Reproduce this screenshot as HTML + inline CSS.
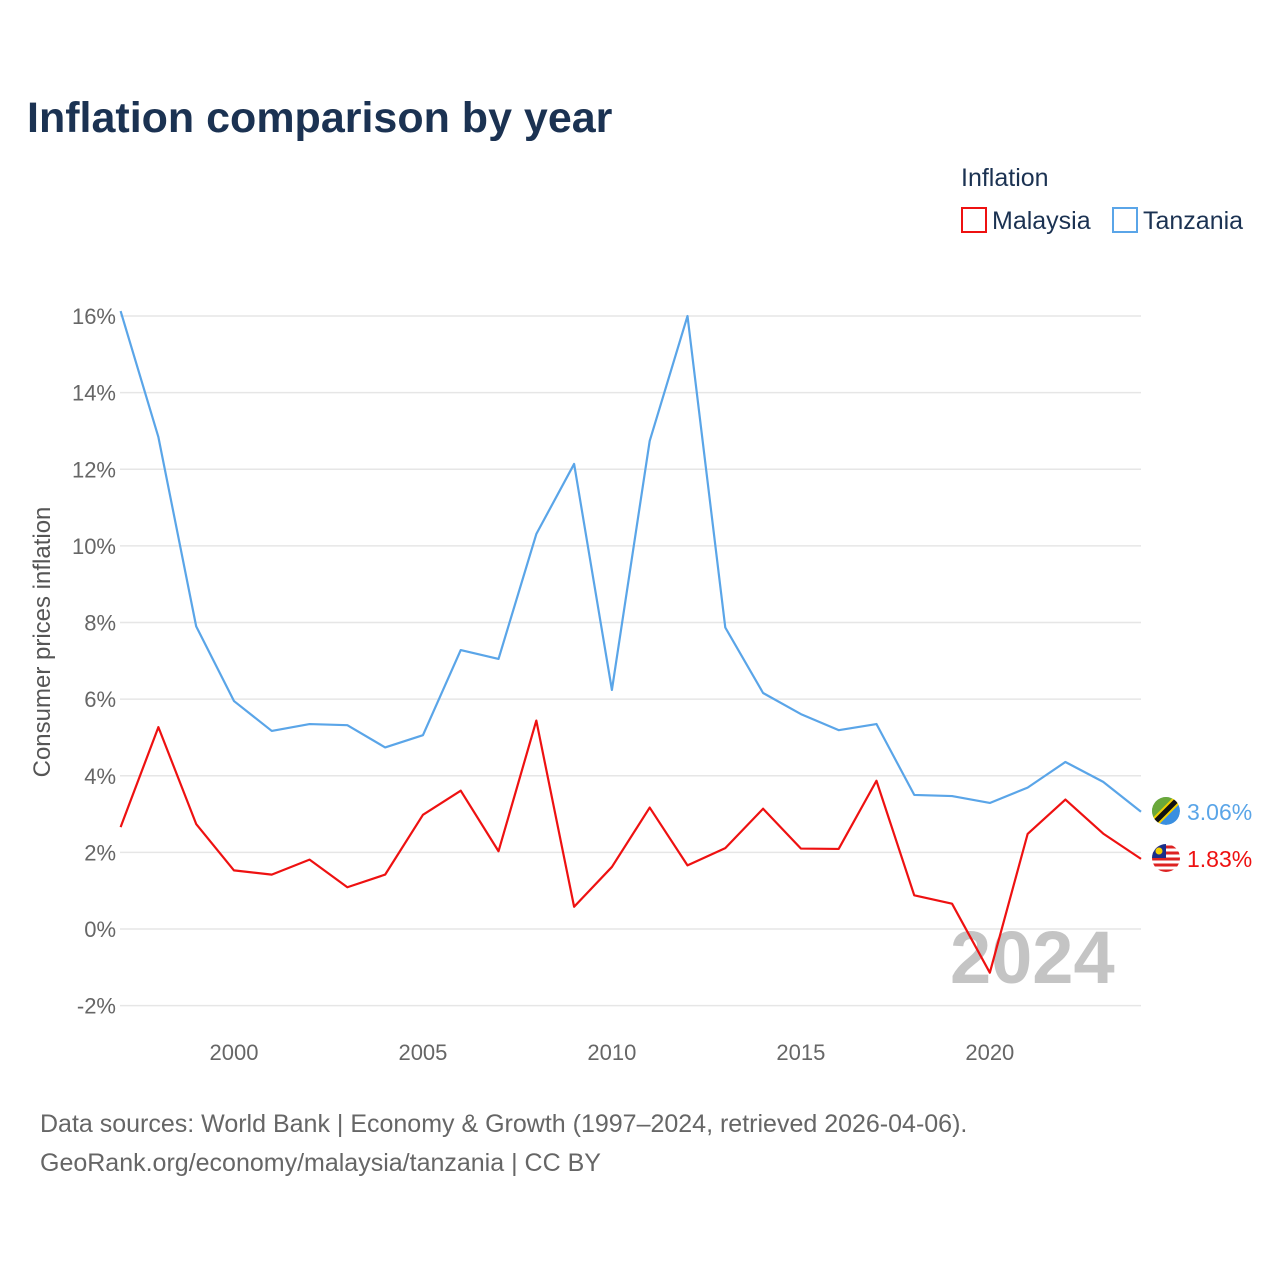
<!DOCTYPE html>
<html><head><meta charset="utf-8"><style>
body{margin:0;background:#fff;font-family:"Liberation Sans",sans-serif}
</style></head><body>
<svg id="chart" width="1280" height="1280" viewBox="0 0 1280 1280">
<defs><clipPath id="mc"><circle cx="1166" cy="858" r="14"/></clipPath><clipPath id="tc"><circle cx="1166" cy="811" r="14"/></clipPath></defs>
<rect width="1280" height="1280" fill="#fff"/>
<text x="27" y="132" font-size="43" font-weight="bold" fill="#1b3252">Inflation comparison by year</text>
<text x="961" y="186" font-size="25" fill="#1b3252">Inflation</text>
<g><rect x="962" y="208" width="24" height="24" fill="none" stroke="#ee1111" stroke-width="2"/><text x="992" y="229" font-size="25" fill="#1b3252">Malaysia</text></g>
<g><rect x="1113" y="208" width="24" height="24" fill="none" stroke="#5aa5e8" stroke-width="2"/><text x="1143" y="229" font-size="25" fill="#1b3252">Tanzania</text></g>
<g id="grid"></g><g id="yt"></g><g id="xt"></g>
<text x="950" y="983" font-size="74" font-weight="bold" fill="#c4c4c4">2024</text>
<text transform="translate(50,642) rotate(-90)" text-anchor="middle" font-size="24" fill="#555">Consumer prices inflation</text>
<g id="series"></g>
<g clip-path="url(#tc)"><circle cx="1166" cy="811" r="14" fill="#3a8fe0"/><path d="M1150,825 L1150,797 L1180,797Z" fill="#6aa83a"/><line x1="1152" y1="825" x2="1180" y2="797" stroke="#f2d000" stroke-width="9"/><line x1="1152" y1="825" x2="1180" y2="797" stroke="#111" stroke-width="5"/></g>
<g clip-path="url(#mc)"><circle cx="1166" cy="858" r="14" fill="#fff"/><path d="M1150,847h32M1150,853h32M1150,859h32M1150,865h32M1150,871h32" stroke="#d22" stroke-width="3"/><rect x="1150" y="842" width="16" height="16" fill="#1a2f8a"/><circle cx="1159" cy="851" r="3.5" fill="#f2d000"/></g>
<text font-size="25" fill="#666">
<tspan x="40" y="1132">Data sources: World Bank | Economy &amp; Growth (1997–2024, retrieved 2026-04-06).</tspan>
<tspan x="40" y="1171">GeoRank.org/economy/malaysia/tanzania | CC BY</tspan></text>
</svg>
<script>
const years=[1997,1998,1999,2000,2001,2002,2003,2004,2005,2006,2007,2008,2009,2010,2011,2012,2013,2014,2015,2016,2017,2018,2019,2020,2021,2022,2023,2024];
const tanzania=[16.13,12.84,7.9,5.95,5.17,5.35,5.32,4.74,5.06,7.28,7.05,10.31,12.14,6.24,12.74,16.0,7.87,6.16,5.61,5.19,5.35,3.5,3.47,3.29,3.69,4.36,3.84,3.06];
const malaysia=[2.66,5.27,2.74,1.53,1.42,1.81,1.09,1.42,2.98,3.61,2.03,5.44,0.58,1.62,3.17,1.66,2.11,3.14,2.1,2.09,3.87,0.88,0.66,-1.14,2.48,3.38,2.49,1.83];
const yTicks=[-2,0,2,4,6,8,10,12,14,16];
const xTicks=[2000,2005,2010,2015,2020];
const NS='http://www.w3.org/2000/svg';
const X=v=>120.6+(v-1997)*(1141-120.6)/27;
const Y=v=>929-v*38.31;
function mk(t,a,p){const e=document.createElementNS(NS,t);for(const k in a)e.setAttribute(k,a[k]);p.appendChild(e);return e;}
const grid=document.getElementById('grid'),yt=document.getElementById('yt'),xt=document.getElementById('xt'),ser=document.getElementById('series');
yTicks.forEach(v=>{
const l=mk('line',{x1:120,x2:1141,y1:Y(v),y2:Y(v),stroke:'#e6e6e6','stroke-width':1.5},grid);


const t=mk('text',{x:116,y:Y(v)+8,'text-anchor':'end','font-size':22,fill:'#666'},yt);
t.textContent=v+'%';


});
xTicks.forEach(v=>{
const t=mk('text',{x:X(v),y:1060,'text-anchor':'middle','font-size':22,fill:'#666'},xt);
t.textContent=v;


});
function line(d,c,name){
const p=mk('polyline',{points:d.map((v,i)=>X(years[i])+','+Y(v)).join(' '),fill:'none',stroke:c,'stroke-width':2.2,'stroke-linejoin':'round'},ser);


const last=d[d.length-1];
const t=mk('text',{x:1187,y:Y(last)+8,'font-size':23,fill:c},ser);
t.textContent=last.toFixed(2)+'%';


}
line(tanzania,'#5aa5e8','tanzania-line');
line(malaysia,'#ee1111','malaysia-line');
</script>
</body></html>
